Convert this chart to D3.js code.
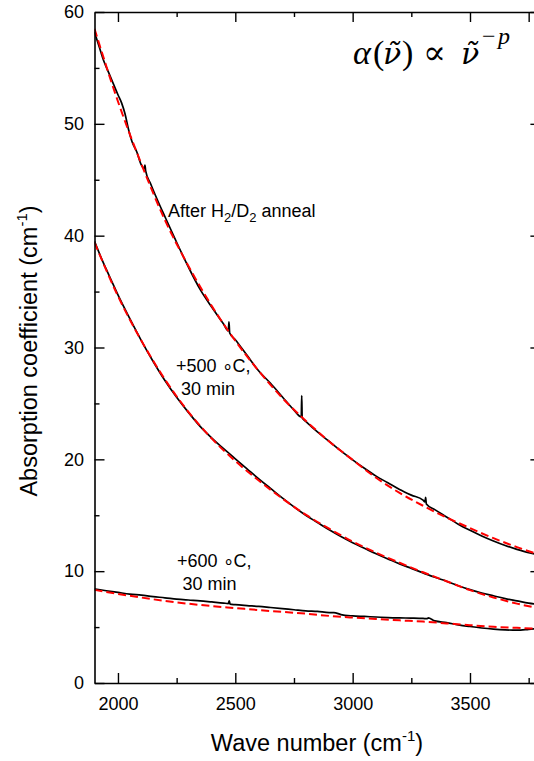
<!DOCTYPE html>
<html>
<head>
<meta charset="utf-8">
<script src="https://cdn.jsdelivr.net/npm/d3@7"></script>
<style>
  body { margin: 0; background: #fff; }
  svg { display: block; }
  text { font-family: "Liberation Sans", Arial, sans-serif; fill: #000; }
</style>
</head>
<body>
<svg id="chart" width="534" height="761"></svg>
<script>
// Axis ticks
const xMajorTicks = [2000, 2500, 3000, 3500];
const xMinorTicks = [2250, 2750, 3250, 3750];
const yMajorTicks = [0, 10, 20, 30, 40, 50, 60];
const yMinorTicks = [5, 15, 25, 35, 45, 55];

// Measured spectrum after H2/D2 anneal
const waveAnneal = [
  1900, 1920, 1940, 1960, 1980, 2000, 2015, 2030, 2045, 2060,
  2080, 2100, 2112, 2115, 2118, 2140, 2170, 2200, 2250, 2300,
  2350, 2400, 2450, 2470, 2473, 2476, 2500, 2550, 2600, 2650,
  2700, 2750, 2781, 2783, 2785, 2800, 2850, 2900, 2950, 3000,
  3050, 3100, 3150, 3200, 3250, 3300, 3308, 3311, 3314, 3350,
  3400, 3450, 3500, 3550, 3600, 3650, 3700, 3750, 3800
];
const absAnneal = [
  58.2, 56.9, 55.6, 54.6, 53.6, 52.6, 51.9, 50.9, 49.5, 48.4,
  47.5, 46.3, 46.0, 46.3, 45.8, 44.6, 43.1, 41.7, 39.4, 37.2,
  35.2, 33.6, 32.1, 31.5, 32.3, 31.3, 30.7, 29.3, 27.9, 26.8,
  25.6, 24.4, 23.8, 25.7, 23.7, 23.4, 22.45, 21.6, 20.75, 19.95,
  19.2, 18.5, 17.9, 17.3, 16.8, 16.35, 16.2, 16.6, 16.0, 15.5,
  14.85, 14.2, 13.65, 13.15, 12.7, 12.3, 11.95, 11.65, 11.45
];

// Measured spectrum after +500 °C, 30 min
const wave500 = [
  1900, 1925, 1950, 1975, 2000, 2050, 2100, 2150, 2200, 2250,
  2300, 2350, 2400, 2450, 2500, 2550, 2600, 2650, 2700, 2750,
  2800, 2850, 2900, 2950, 3000, 3050, 3100, 3150, 3200, 3250,
  3300, 3350, 3400, 3450, 3500, 3550, 3600, 3650, 3700, 3750,
  3800
];
const abs500 = [
  39.5, 38.2, 37.0, 35.85, 34.7, 32.6, 30.6, 28.75, 27.05, 25.55,
  24.2, 22.95, 21.9, 20.95, 20.05, 19.15, 18.25, 17.4, 16.55, 15.75,
  15.0, 14.35, 13.7, 13.1, 12.55, 12.05, 11.55, 11.1, 10.65, 10.25,
  9.85, 9.45, 9.1, 8.7, 8.35, 8.05, 7.8, 7.55, 7.35, 7.15,
  7.0
];

// Measured spectrum after +600 °C, 30 min
const wave600 = [
  1900, 1950, 2000, 2050, 2100, 2150, 2200, 2250, 2300, 2350,
  2400, 2450, 2470, 2474, 2478, 2500, 2550, 2600, 2650, 2700,
  2750, 2800, 2850, 2900, 2920, 2950, 3000, 3050, 3100, 3150,
  3200, 3250, 3300, 3318, 3322, 3350, 3400, 3450, 3500, 3550,
  3600, 3650, 3700, 3750, 3800
];
const abs600 = [
  8.42, 8.25, 8.1, 7.95, 7.85, 7.72, 7.62, 7.5, 7.42, 7.35,
  7.25, 7.15, 7.1, 7.35, 7.05, 7.0, 6.92, 6.85, 6.75, 6.65,
  6.55, 6.45, 6.4, 6.3, 6.3, 6.12, 6.0, 5.95, 5.9, 5.85,
  5.82, 5.8, 5.77, 5.75, 5.82, 5.55, 5.4, 5.2, 5.05, 4.92,
  4.82, 4.75, 4.72, 4.8, 4.9
];

// Power-law fits, sampled every 100 cm-1
const waveFit = [
  1900, 2000, 2100, 2200, 2300, 2400, 2500, 2600, 2700, 2800,
  2900, 3000, 3100, 3200, 3300, 3400, 3500, 3600, 3700, 3800
];
const fitAnneal = [
  58.5, 52.0, 46.4, 41.4, 37.3, 33.7, 30.6, 27.9, 25.5, 23.45,
  21.6, 19.95, 18.35, 17.0, 15.85, 14.8, 13.85, 12.95, 12.15, 11.45
];
const fit500 = [
  39.4, 34.6, 30.6, 27.15, 24.25, 21.85, 19.85, 18.1, 16.5, 15.05,
  13.8, 12.65, 11.65, 10.75, 9.9, 9.1, 8.3, 7.65, 7.1, 6.65
];
const fit600 = [
  8.33, 7.97, 7.64, 7.34, 7.09, 6.88, 6.7, 6.52, 6.36, 6.2,
  6.0, 5.85, 5.72, 5.6, 5.49, 5.33, 5.17, 5.03, 4.93, 4.86
];

const svg = d3.select("#chart");

const x = d3.scaleLinear().domain([1900, 3800]).range([94.5, 540.4]);
const y = d3.scaleLinear().domain([0, 60]).range([683, 12]);

// clip for the plotting area
svg.append("defs").append("clipPath").attr("id", "plot-clip")
  .append("rect")
  .attr("x", x(1900)).attr("y", y(60))
  .attr("width", x(3800) - x(1900)).attr("height", y(0) - y(60));

const line = d3.line()
  .x(d => x(d[0]))
  .y(d => y(d[1]))
  .curve(d3.curveMonotoneX);

const zip = (a, b) => a.map((v, i) => [v, b[i]]);

const curves = svg.append("g").attr("clip-path", "url(#plot-clip)");

// measured spectra (solid black)
[[waveAnneal, absAnneal], [wave500, abs500], [wave600, abs600]].forEach(([w, a]) => {
  curves.append("path")
    .datum(zip(w, a))
    .attr("d", line)
    .attr("fill", "none")
    .attr("stroke", "#000")
    .attr("stroke-width", 1.7)
    .attr("stroke-linejoin", "round");
});

// fits (dashed red)
[fitAnneal, fit500, fit600].forEach(f => {
  curves.append("path")
    .datum(zip(waveFit, f))
    .attr("d", line)
    .attr("fill", "none")
    .attr("stroke", "#ff0000")
    .attr("stroke-width", 2)
    .attr("stroke-dasharray", "8,4");
});

// ---- axes ----
const axisStyle = g => {
  g.selectAll("path.domain").attr("stroke", "#000").attr("stroke-width", 1.6);
  g.selectAll(".tick line").attr("stroke", "#000").attr("stroke-width", 1.4);
  g.selectAll("text").attr("font-size", 18).attr("font-family", "Liberation Sans, Arial, sans-serif").attr("fill", "#000");
};

// bottom
svg.append("g").attr("transform", `translate(0,${y(0)})`)
  .call(d3.axisBottom(x).tickValues(xMajorTicks).tickSizeInner(-10).tickSizeOuter(0).tickPadding(14).tickFormat(d3.format("d")))
  .call(axisStyle);
svg.append("g").attr("transform", `translate(0,${y(0)})`)
  .call(d3.axisBottom(x).tickValues(xMinorTicks).tickSizeInner(-5).tickSizeOuter(0).tickFormat(""))
  .call(g => g.select(".domain").remove())
  .call(axisStyle);

// top
svg.append("g").attr("transform", `translate(0,${y(60)})`)
  .call(d3.axisTop(x).tickValues(xMajorTicks.concat([3750])).tickSizeInner(-10).tickSizeOuter(0).tickFormat(""))
  .call(axisStyle);
svg.append("g").attr("transform", `translate(0,${y(60)})`)
  .call(d3.axisTop(x).tickValues([2250, 2750, 3250]).tickSizeInner(-5).tickSizeOuter(0).tickFormat(""))
  .call(g => g.select(".domain").remove())
  .call(axisStyle);

// left
svg.append("g").attr("transform", `translate(${x(1900)},0)`)
  .call(d3.axisLeft(y).tickValues(yMajorTicks).tickSizeInner(-10).tickSizeOuter(0).tickPadding(10.5).tickFormat(d3.format("d")))
  .call(axisStyle);
svg.append("g").attr("transform", `translate(${x(1900)},0)`)
  .call(d3.axisLeft(y).tickValues(yMinorTicks).tickSizeInner(-5).tickSizeOuter(0).tickFormat(""))
  .call(g => g.select(".domain").remove())
  .call(axisStyle);

// right
svg.append("g").attr("transform", `translate(${x(3800)},0)`)
  .call(d3.axisRight(y).tickValues(yMajorTicks).tickSizeInner(-10).tickSizeOuter(0).tickFormat(""))
  .call(axisStyle);
svg.append("g").attr("transform", `translate(${x(3800)},0)`)
  .call(d3.axisRight(y).tickValues(yMinorTicks).tickSizeInner(-5).tickSizeOuter(0).tickFormat(""))
  .call(g => g.select(".domain").remove())
  .call(axisStyle);

// ---- axis titles ----
const xTitle = svg.append("text")
  .attr("x", 317)
  .attr("y", 751)
  .attr("text-anchor", "middle")
  .attr("font-size", 23.5);
xTitle.append("tspan").text("Wave number (cm");
xTitle.append("tspan").attr("dy", -10).attr("font-size", 15).text("-1");
xTitle.append("tspan").attr("dy", 10).text(")");

const yTitle = svg.append("text")
  .attr("transform", "translate(37,351) rotate(-90)")
  .attr("text-anchor", "middle")
  .attr("font-size", 23.5);
yTitle.append("tspan").text("Absorption coefficient (cm");
yTitle.append("tspan").attr("dy", -10).attr("font-size", 15).text("-1");
yTitle.append("tspan").attr("dy", 10).text(")");

// ---- curve labels ----
const lab1 = svg.append("text").attr("x", 168).attr("y", 217).attr("font-size", 18);
lab1.append("tspan").text("After H");
lab1.append("tspan").attr("dy", 5).attr("font-size", 13).text("2");
lab1.append("tspan").attr("dy", -5).text("/D");
lab1.append("tspan").attr("dy", 5).attr("font-size", 13).text("2");
lab1.append("tspan").attr("dy", -5).text(" anneal");

const twoLine = (x1, y1, x2, y2, first, second) => {
  const t = svg.append("text").attr("font-size", 18);
  t.append("tspan").attr("x", x1).attr("y", y1).text(first);
  t.append("tspan").attr("x", x2).attr("y", y2).text(second);
};
twoLine(176, 372, 181, 395, "+500 \u2218C,", "30 min");
twoLine(177, 567, 182.5, 589.5, "+600 \u2218C,", "30 min");

// ---- power-law formula: α(ν̃) ∝ ν̃^−p ----
const serif = "'Liberation Serif', 'DejaVu Serif', serif";
const formula = svg.append("text")
  .style("font-family", serif)
  .attr("font-size", 34);
const part = (px, py, str, opts = {}) => {
  const t = formula.append("tspan").attr("x", px).attr("y", py).text(str);
  if (opts.italic) t.attr("font-style", "italic");
  if (opts.size) t.attr("font-size", opts.size);
  if (opts.family) t.style("font-family", opts.family);
  return t;
};
const nuTilde = "\u03BD\u0303";
part(353, 64, "\u03B1", { italic: true });
part(373, 64, "(");
part(383, 64, nuTilde, { italic: true, size: 30, family: "'DejaVu Serif', serif" });
part(402, 64, ")");
part(423, 64, "\u221D");
part(461, 64, nuTilde, { italic: true, size: 30, family: "'DejaVu Serif', serif" });
part(482, 44, "\u2212", { size: 24 });
part(498, 44, "p", { size: 24, italic: true });
</script>
</body>
</html>
